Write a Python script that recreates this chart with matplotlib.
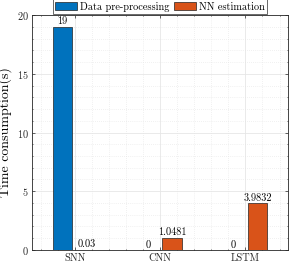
import matplotlib
matplotlib.use("Agg")
import matplotlib.pyplot as plt
import numpy as np
from matplotlib.ticker import MultipleLocator

plt.rcParams['font.family'] = 'serif'
plt.rcParams['font.serif'] = ['cmr10']
plt.rcParams['mathtext.fontset'] = 'cm'
plt.rcParams['axes.formatter.use_mathtext'] = True

categories = ['SNN', 'CNN', 'LSTM']
series_names = ['Data pre-processing', 'NN estimation']
preprocessing = [19, 0, 0]
nn_estimation = [0.03, 1.0481, 3.9832]
label_pre = ['19', '0', '0']
label_nn = ['0.03', '1.0481', '3.9832']
colors = ['#0072BD', '#D95319']

fig = plt.figure(figsize=(2.91, 2.65), dpi=100)
ax = fig.add_axes([0.110, 0.057, 0.880, 0.886])

x = np.arange(1, len(categories) + 1)
off = 0.143
w = 0.229
ax.bar(x - off, preprocessing, w, color=colors[0], edgecolor='#222222', linewidth=0.5, label=series_names[0], zorder=3)
ax.bar(x + off, nn_estimation, w, color=colors[1], edgecolor='#222222', linewidth=0.5, label=series_names[1], zorder=3)

fs = 7.4
for xi, v, t in zip(x - off, preprocessing, label_pre):
    ax.text(xi, v + 0.03, t, ha='center', va='bottom', fontsize=fs)
for xi, v, t in zip(x + off, nn_estimation, label_nn):
    ax.text(xi, v + 0.03, t, ha='center', va='bottom', fontsize=fs)

ax.set_xlim(0.5, 3.5)
ax.set_ylim(0, 20)
ax.set_xticks(x)
ax.set_xticklabels(categories, fontsize=fs)
ax.set_yticks([0, 5, 10, 15, 20])
ax.tick_params(axis='y', labelsize=fs)
ax.xaxis.set_minor_locator(MultipleLocator(0.2))
ax.yaxis.set_minor_locator(MultipleLocator(1))
ax.tick_params(which='both', direction='in', top=True, right=True, length=2, width=0.5, colors='#262626', pad=2.5)
ax.tick_params(which='minor', length=1)
ax.grid(True, which='major', color='#e6e6e6', linewidth=0.6, zorder=0)
ax.grid(True, which='minor', color='#e3e3e3', linewidth=0.5, linestyle=(0, (1, 2)), zorder=0)
ax.set_axisbelow(True)
for s in ax.spines.values():
    s.set_linewidth(0.6)
    s.set_color('#262626')

ax.set_ylabel('Time consumption(s)', fontsize=10, labelpad=3)

leg = ax.legend(loc='lower center', bbox_to_anchor=(0.5, 1.0), ncol=2, fontsize=fs,
                frameon=True, fancybox=False, edgecolor='#262626', borderaxespad=0.1,
                handlelength=2.1, handleheight=0.8, columnspacing=0.5, handletextpad=0.3,
                borderpad=0.25)
leg.get_frame().set_linewidth(0.6)

fig.savefig('out.png', dpi=100)
